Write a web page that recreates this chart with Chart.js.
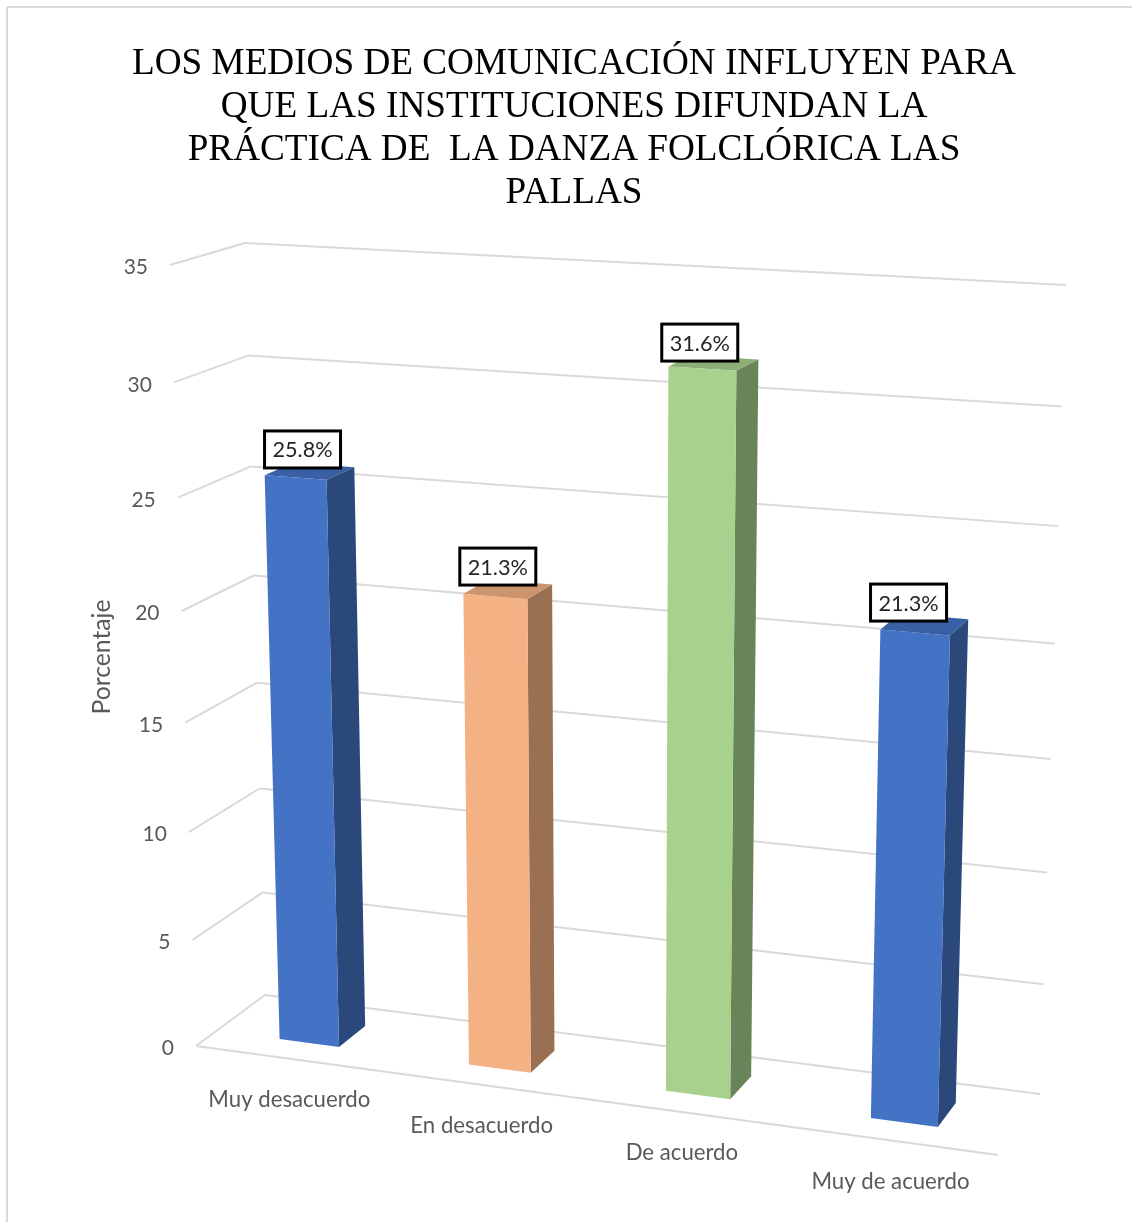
<!DOCTYPE html>
<html lang="es">
<head>
    <meta charset="UTF-8">
    <title>Los medios de comunicación</title>
    <script src="https://cdn.jsdelivr.net/npm/chart.js"></script>
    <style>
        html, body { margin: 0; padding: 0; background: #ffffff; overflow: hidden; }
        #wrap { position: relative; width: 1132px; height: 1222px; }
    </style>
</head>
<body>
    <div id="wrap"><canvas id="chart"></canvas></div>

    <script>
        const titleLines = [
            'LOS MEDIOS DE COMUNICACIÓN INFLUYEN PARA',
            'QUE LAS INSTITUCIONES DIFUNDAN LA',
            'PRÁCTICA DE  LA DANZA FOLCLÓRICA LAS',
            'PALLAS'
        ];
        const categories = ['Muy desacuerdo', 'En desacuerdo', 'De acuerdo', 'Muy de acuerdo'];
        const percentages = [25.8, 21.3, 31.6, 21.3];
        const barColors = ['#4472C4', '#F4B183', '#A9D18E', '#4472C4'];
        const yAxisTitle = 'Porcentaje';

        // corners of the 3D box on screen: [top-left, top-right, bottom-right, bottom-left]
        const frontWall = [[170, 265], [1023, 311], [998, 1155], [196, 1046]];
        const backWall = [[245, 243], [1066, 285], [1040, 1094], [265, 995]];
        const barFrontZ = 0.3, barBackZ = 0.7;
        const labelNudgeX = [7, 2.5, -2.5, -6.5];
        const labelNudgeY = [-28, -30, -26, -30];

        function squareToQuad(q) {
            const [x0, y0] = q[3], [x1, y1] = q[2], [x2, y2] = q[1], [x3, y3] = q[0];
            const dx1 = x1 - x2, dx2 = x3 - x2, sx = x0 - x1 + x2 - x3;
            const dy1 = y1 - y2, dy2 = y3 - y2, sy = y0 - y1 + y2 - y3;
            const d = dx1 * dy2 - dx2 * dy1;
            const g = (sx * dy2 - dx2 * sy) / d, h = (dx1 * sy - sx * dy1) / d;
            return (u, v) => {
                const w = g * u + h * v + 1;
                return [
                    ((x1 - x0 + g * x1) * u + (x3 - x0 + h * x3) * v + x0) / w,
                    ((y1 - y0 + g * y1) * u + (y3 - y0 + h * y3) * v + y0) / w
                ];
            };
        }
        const toFront = squareToQuad(frontWall);
        const toBack = squareToQuad(backWall);

        function project(u, v, z) {
            const f = toFront(u, v), b = toBack(u, v);
            return [f[0] + (b[0] - f[0]) * z, f[1] + (b[1] - f[1]) * z];
        }

        function shade(hex, k) {
            const n = parseInt(hex.slice(1), 16);
            return `rgb(${Math.round((n >> 16) * k)},${Math.round(((n >> 8) & 255) * k)},${Math.round((n & 255) * k)})`;
        }

        function poly(ctx, pts, color) {
            ctx.fillStyle = color;
            ctx.beginPath();
            pts.forEach((p, i) => i ? ctx.lineTo(p[0], p[1]) : ctx.moveTo(p[0], p[1]));
            ctx.closePath();
            ctx.fill();
        }

        function line(ctx, a, b) {
            ctx.beginPath();
            ctx.moveTo(a[0], a[1]);
            ctx.lineTo(b[0], b[1]);
            ctx.stroke();
        }

        const box3d = {
            id: 'box3d',
            beforeDatasetsDraw(chart) {
                const ctx = chart.ctx, area = chart.chartArea;
                const yScale = chart.scales.y;
                const U = px => (px - area.left) / area.width;
                const V = py => (area.bottom - py) / area.height;
                ctx.save();

                // outline of the picture
                ctx.strokeStyle = '#D9D9D9';
                ctx.lineWidth = 2;
                line(ctx, [7, 1222], [7, 7]);
                line(ctx, [7, 7], [1132, 7]);

                // walls, floor and tick labels
                ctx.font = '21px Lato';
                ctx.textAlign = 'right';
                ctx.textBaseline = 'middle';
                yScale.ticks.forEach(t => {
                    const v = V(yScale.getPixelForValue(t.value));
                    ctx.strokeStyle = '#D9D9D9';
                    ctx.lineWidth = 2;
                    line(ctx, project(0, v, 0), project(0, v, 1));
                    line(ctx, project(0, v, 1), project(1, v, 1));
                    if (t.value === 0) line(ctx, project(0, v, 0), project(1, v, 0));
                    const p = project(0, v, 0);
                    ctx.fillStyle = '#595959';
                    ctx.fillText(String(t.value), p[0] - 22, p[1] + 2.5);
                });

                // category labels under the front edge
                const xScale = chart.scales.x;
                ctx.font = '22.2px Lato';
                ctx.textAlign = 'center';
                categories.forEach((c, i) => {
                    const p = project(U(xScale.getPixelForValue(i)), 0, 0);
                    ctx.fillText(c, p[0], p[1] + 41);
                });

                // y axis title
                ctx.save();
                ctx.translate(102, 657);
                ctx.rotate(-Math.PI / 2);
                ctx.font = '24.7px Lato';
                ctx.fillText(yAxisTitle, 0, 0);
                ctx.restore();

                // bars, from the library's own bar elements
                const ds = chart.data.datasets[0];
                chart.getDatasetMeta(0).data.forEach((bar, i) => {
                    const l = U(bar.x - bar.width / 2), r = U(bar.x + bar.width / 2);
                    const top = V(bar.y), base = V(bar.base);
                    const color = ds.backgroundColor[i];
                    const zf = barFrontZ, zb = barBackZ;
                    poly(ctx, [project(l, top, zf), project(r, top, zf), project(r, top, zb), project(l, top, zb)], shade(color, 0.84));
                    poly(ctx, [project(r, top, zf), project(r, top, zb), project(r, base, zb), project(r, base, zf)], shade(color, 0.63));
                    poly(ctx, [project(l, top, zf), project(r, top, zf), project(r, base, zf), project(l, base, zf)], color);

                    // value box
                    const c = project((l + r) / 2, top, zf);
                    const bx = c[0] + labelNudgeX[i], by = c[1] + labelNudgeY[i];
                    ctx.fillStyle = '#ffffff';
                    ctx.strokeStyle = '#000000';
                    ctx.lineWidth = 3;
                    ctx.fillRect(bx - 38, by - 18.5, 76, 37);
                    ctx.strokeRect(bx - 38, by - 18.5, 76, 37);
                    ctx.fillStyle = '#262626';
                    ctx.font = '21.7px Lato';
                    ctx.textAlign = 'center';
                    ctx.fillText(percentages[i].toFixed(1) + '%', bx, by + 1);
                });
                ctx.restore();
                return false;
            }
        };

        new Chart(document.getElementById('chart'), {
            type: 'bar',
            data: {
                labels: categories,
                datasets: [{ data: percentages, backgroundColor: barColors, barPercentage: 0.318, categoryPercentage: 1 }]
            },
            options: {
                responsive: true,
                maintainAspectRatio: false,
                animation: false,
                layout: { padding: { left: 16 } },
                scales: {
                    x: { display: false },
                    y: { display: false, min: 0, max: 35, ticks: { stepSize: 5 } }
                },
                plugins: {
                    legend: { display: false },
                    tooltip: { enabled: false },
                    title: {
                        display: true,
                        text: titleLines,
                        color: '#000000',
                        font: { family: '"Liberation Serif"', size: 37.2, weight: 'normal', lineHeight: 1.15 },
                        padding: { top: 43, bottom: 20 }
                    }
                }
            },
            plugins: [box3d]
        });
    </script>
</body>
</html>
